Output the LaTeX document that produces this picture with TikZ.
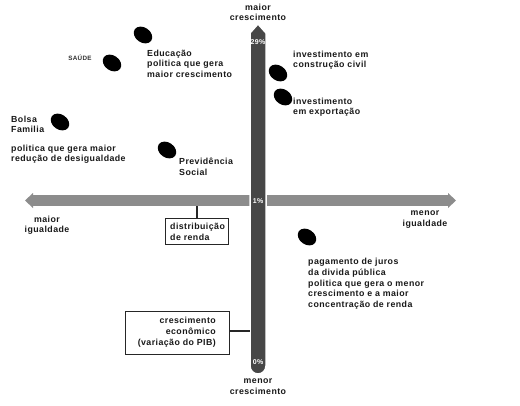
\documentclass[tikz,border=0pt]{standalone}
\usepackage{fontspec}
\setmainfont[LetterSpace=5]{Liberation Sans}
\usetikzlibrary{shapes.geometric}
\definecolor{vbar}{gray}{0.28}
\definecolor{hbar}{gray}{0.55}
\tikzset{
  lbl/.style={font=\bfseries\fontsize{8.8}{10.8}\selectfont, align=left, inner sep=0pt, anchor=north west, text=black!90},
  clbl/.style={lbl, align=center, anchor=north},
  pct/.style={font=\bfseries\fontsize{7}{8}\selectfont, text=white, inner sep=0pt},
  dot/.style={ellipse, fill=black, minimum width=20pt, minimum height=15pt, inner sep=0pt, rotate=-35},
  infobox/.style={draw=black!85, line width=1pt, inner sep=0pt},
  conn/.style={draw=black!85, line width=1.2pt}
}
\begin{document}
\begin{tikzpicture}[x=1pt,y=-1pt]
\useasboundingbox (0,0) rectangle (520,405);
\fill[white] (0,0) rectangle (520,405);
% horizontal bar
\fill[hbar] (33,195) rectangle (448,206);
\fill[hbar] (25,200.5) -- (33,193) -- (33,208) -- cycle;
\fill[hbar] (456,200.5) -- (448,193) -- (448,208) -- cycle;
% vertical bar
\filldraw[fill=vbar, draw=white, line width=1.5pt] (250,33) -- (258,24) -- (266,33) -- (266,366) arc[start angle=0, end angle=180, x radius=8pt, y radius=-8pt] -- cycle;
\node[pct] (p29) at (258,42) {29\%};
\node[pct] (p1) at (258,201) {1\%};
\node[pct] (p0) at (258,362) {0\%};
\coordinate (hbot) at (197,206);
\coordinate (vleft) at (250,331);
% axis labels
\node[clbl] (maiorc) at (258,3.5) {maior\\crescimento};
\node[clbl] (menorc) at (258,378.5) {menor\\crescimento};
\node[clbl] (maiori) at (47,215.5) {maior\\igualdade};
\node[clbl] (menori) at (425,210.5) {menor\\igualdade};
% dots
\node[dot] (d1) at (143,35) {};
\node[dot] (d2) at (112,63) {};
\node[dot] (d3) at (60,122) {};
\node[dot] (d4) at (167,150) {};
\node[dot] (d5) at (278,73) {};
\node[dot] (d6) at (283,97) {};
\node[dot] (d7) at (307,237) {};
% texts
\node[font=\bfseries\fontsize{6.3}{7}\selectfont, text=black!80, inner sep=0pt] (saude) at (80,58) {SAÚDE};
\node[lbl] (edu) at (147,49.5) {Educação\\politica que gera\\maior crescimento};
\node[lbl] (bolsa) at (11,115.5) {Bolsa\\Familia};
\node[lbl] (bolsa2) at (11,144.5) {politica que gera maior\\redução de desigualdade};
\node[lbl] (prev) at (179,157.5) {Previdência\\Social};
\node[lbl] (civil) at (293,50.5) {investimento em\\construção civil};
\node[lbl] (exp) at (293,97.5) {investimento\\em exportação};
\node[lbl] (juros) at (308,258) {pagamento de juros\\da divida pública\\politica que gera o menor\\crescimento e a maior\\concentração de renda};
% boxes
\node[infobox, minimum width=63pt, minimum height=26pt, anchor=north west] (dist) at (165,218) {};
\node[lbl] (distt) at (170,223) {distribuição\\de renda};
\node[infobox, minimum width=104pt, minimum height=43pt, anchor=north west] (cresc) at (125,311) {};
\node[lbl, align=right, anchor=north east] (crest) at (216,317) {crescimento\\econômico\\(variação do PIB)};
\draw[conn] (hbot) -- (dist.north -| hbot);
\draw[conn] (cresc.east |- vleft) -- (vleft);
\end{tikzpicture}
\end{document}
